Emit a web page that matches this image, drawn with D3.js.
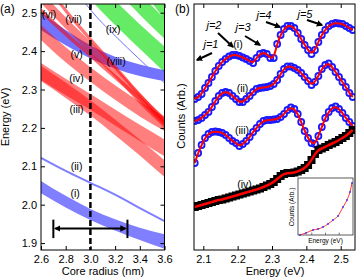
<!DOCTYPE html>
<html>
<head>
<meta charset="utf-8">
<script src="https://cdn.jsdelivr.net/npm/d3@7"></script>
<style>
body { margin: 0; background: #fff; }
svg { font-family: "Liberation Sans", Arial, sans-serif; }
</style>
</head>
<body>
<svg id="chart" width="357" height="280"></svg>
<script>
// ---- panel (a): transition energies vs core radius ----
var radii = [2.6, 2.8, 3.0, 3.2, 3.4, 3.6];

var band1Top = [2.062, 2.023, 1.989, 1.962, 1.940, 1.923];
var band1Bot = [2.030, 1.993, 1.960, 1.933, 1.908, 1.885];
var band2Line = [2.122, 2.088, 2.057, 2.026, 1.991, 1.957];
var band3aTop = [2.369, 2.328, 2.288, 2.248, 2.208, 2.170];
var band3aBot = [2.325, 2.285, 2.247, 2.206, 2.166, 2.126];
var band3bTop = [2.362, 2.318, 2.272, 2.222, 2.170, 2.116];
var band3bBot = [2.322, 2.278, 2.232, 2.181, 2.128, 2.072];
var band4Top = [2.468, 2.410, 2.358, 2.311, 2.268, 2.230];
var band4Bot = [2.429, 2.371, 2.320, 2.273, 2.230, 2.192];
var band5Top = [2.555, 2.488, 2.425, 2.360, 2.290, 2.228];
var band5Bot = [2.525, 2.458, 2.395, 2.332, 2.262, 2.200];
var band6Top = [2.512, 2.452, 2.397, 2.340, 2.283, 2.218];
var band6Bot = [2.498, 2.438, 2.383, 2.326, 2.269, 2.204];
var band7Top = [2.598, 2.512, 2.437, 2.365, 2.292, 2.224];
var band7Bot = [2.585, 2.499, 2.424, 2.352, 2.279, 2.211];
var band8Top = [2.502, 2.455, 2.415, 2.385, 2.365, 2.350];
var band8Bot = [2.455, 2.415, 2.381, 2.355, 2.335, 2.322];
var band9Line = [2.750, 2.600, 2.508, 2.440, 2.378, 2.317];
var greenATop = [2.850, 2.700, 2.600, 2.532, 2.470, 2.412];
var greenABot = [2.780, 2.630, 2.536, 2.468, 2.406, 2.345];
var greenBTop = [2.920, 2.780, 2.690, 2.620, 2.550, 2.485];
var greenBBot = [2.860, 2.720, 2.630, 2.562, 2.495, 2.432];
var greenCTop = [3.000, 2.870, 2.780, 2.700, 2.615, 2.530];
var greenCBot = [2.950, 2.820, 2.730, 2.650, 2.568, 2.482];
var greyTop = [3.050, 2.950, 2.850, 2.740, 2.650, 2.560];
var greyBot = [3.030, 2.930, 2.830, 2.720, 2.628, 2.536];

var radiusTicks = [2.6, 2.8, 3.0, 3.2, 3.4, 3.6];
var energyTicksA = [1.9, 2.0, 2.1, 2.2, 2.3, 2.4, 2.5];
var sizeRange = [2.7, 3.3];   // core radius spread
var sizeEnergy = 1.938;

// ---- panel (b): spectra ----
var energies = [2.075, 2.085, 2.095, 2.105, 2.115, 2.125, 2.135, 2.145, 2.155, 2.165,
    2.175, 2.185, 2.195, 2.205, 2.215, 2.225, 2.235, 2.245, 2.255, 2.265,
    2.275, 2.285, 2.295, 2.305, 2.315, 2.325, 2.335, 2.345, 2.355, 2.365,
    2.375, 2.385, 2.395, 2.405, 2.415, 2.425, 2.435, 2.445, 2.455, 2.465,
    2.475, 2.485, 2.495, 2.505, 2.515, 2.525, 2.535];
var spec1 = [151, 153, 156, 162, 167, 173, 179, 184, 188, 191, 193.5, 195, 195, 194, 192.5, 191, 189, 187, 192, 196,
    197, 196, 192, 192, 206, 215, 221, 224, 224, 222, 217, 211, 205, 200, 196, 200, 208, 215, 220, 224,
    226, 227, 226.5, 226, 224, 222, 220];
var spec2 = [129, 130, 132, 135, 138, 143, 149, 154, 157, 158, 157, 154, 151, 148, 148, 151, 154, 158, 161, 162,
    162.5, 163, 164, 166, 170, 176, 181, 183.5, 183.5, 182, 180, 177, 173, 169, 165, 168, 174, 181, 185, 186.5,
    183, 178, 173, 168, 163, 157, 153];
var spec3 = [87, 97, 105, 112, 116, 118, 118.5, 118, 117, 115, 112, 109, 107, 104, 106, 109, 113, 118, 122, 126,
    129, 130, 130, 130.5, 131, 133, 136, 140, 142.5, 141, 136, 128, 119, 112, 107, 106, 114, 123, 132, 138,
    142, 143.5, 141, 137, 132, 128, 124];
var spec4 = [43, 44, 45, 46, 47, 48, 49, 50, 50.5, 51.5, 52.5, 53.5, 54.5, 55.5, 56.5, 57.5, 58.5, 59.5, 60.5, 61.5,
    63, 64.5, 66, 68, 71, 74, 76, 77, 77, 77.5, 78.5, 80, 82, 85, 90, 96, 100, 101.5, 103, 105,
    106.5, 108, 110, 112, 114, 117, 120];
var energyTicksB = [2.1, 2.2, 2.3, 2.4, 2.5];

// inset (relative units)
var insetE = [0.036, 0.145, 0.273, 0.364, 0.455, 0.545, 0.636, 0.727, 0.818, 0.891, 0.945, 0.982];
var insetC = [0.0, 0.035, 0.088, 0.105, 0.140, 0.193, 0.263, 0.333, 0.491, 0.614, 0.754, 0.912];

var svg = d3.select("#chart");

var defs = svg.append("defs");
defs.append("clipPath").attr("id", "clipA").append("rect")
    .attr("x", 41).attr("y", 4).attr("width", 123.5).attr("height", 246);
defs.append("clipPath").attr("id", "clipB").append("rect")
    .attr("x", 194).attr("y", 4).attr("width", 161).attr("height", 246);
defs.append("marker").attr("id", "head")
    .attr("viewBox", "0 0 10 10").attr("refX", 8).attr("refY", 5)
    .attr("markerWidth", 3.2).attr("markerHeight", 3.2).attr("orient", "auto-start-reverse")
    .append("path").attr("d", "M0,0L10,5L0,10z").attr("fill", "#000");

// ================= panel (a) =================
var xA = d3.scaleLinear().domain([2.6, 3.6]).range([41, 164.5]);
var yA = d3.scaleLinear().domain([1.882, 2.5227]).range([250, 4]);

var gA = svg.append("g");
var plotA = gA.append("g").attr("clip-path", "url(#clipA)");

var bandArea = d3.area()
    .x(function(d) { return xA(d.r); })
    .y0(function(d) { return yA(d.lo); })
    .y1(function(d) { return yA(d.hi); })
    .curve(d3.curveMonotoneX);
var bandLine = d3.line()
    .x(function(d) { return xA(d.r); })
    .y(function(d) { return yA(d.e); })
    .curve(d3.curveMonotoneX);

var makeBand = function(top, bot) {
    return radii.map(function(r, i) { return {r: r, hi: top[i], lo: bot[i]}; });
}

var bands = [
    [greyTop, greyBot, "#999999", 0.35],
    [greenCTop, greenCBot, "#00dd00", 0.6],
    [greenBTop, greenBBot, "#00dd00", 0.6],
    [greenATop, greenABot, "#00dd00", 0.6],
    [band8Top, band8Bot, "#0000ff", 0.55],
    [band1Top, band1Bot, "#0000ff", 0.5],
    [band3bTop, band3bBot, "#ff0000", 0.5],
    [band3aTop, band3aBot, "#ff0000", 0.5],
    [band4Top, band4Bot, "#ff0000", 0.5],
    [band5Top, band5Bot, "#ff0000", 0.5],
    [band6Top, band6Bot, "#ff0000", 0.55],
    [band7Top, band7Bot, "#ff0000", 0.55]
];

bands.forEach(function(b) {
    plotA.append("path")
        .attr("d", bandArea(makeBand(b[0], b[1])))
        .attr("fill", b[2])
        .attr("fill-opacity", b[3]);
});

plotA.append("path")
    .attr("d", bandLine(radii.map(function(r, i) { return {r: r, e: band2Line[i]}; })))
    .attr("fill", "none").attr("stroke", "#7f7fff").attr("stroke-width", 2);
plotA.append("path")
    .attr("d", bandLine(radii.map(function(r, i) { return {r: r, e: band9Line[i]}; })))
    .attr("fill", "none").attr("stroke", "#7070ff").attr("stroke-width", 1);

// dashed line at mean radius
plotA.append("line")
    .attr("x1", xA(3.0)).attr("x2", xA(3.0))
    .attr("y1", 4).attr("y2", 250)
    .attr("stroke", "#000").attr("stroke-width", 2.5)
    .attr("stroke-dasharray", "6,3");

// size distribution bar
gA.append("line")
    .attr("x1", xA(sizeRange[0]) + 2).attr("x2", xA(sizeRange[1]) - 2)
    .attr("y1", yA(sizeEnergy)).attr("y2", yA(sizeEnergy))
    .attr("stroke", "#000").attr("stroke-width", 2)
    .attr("marker-start", "url(#head)").attr("marker-end", "url(#head)");
sizeRange.forEach(function(r) {
    gA.append("line")
        .attr("x1", xA(r)).attr("x2", xA(r))
        .attr("y1", yA(1.961)).attr("y2", yA(1.913))
        .attr("stroke", "#000").attr("stroke-width", 2);
});

var labelsA = [
    ["(i)", 2.876, 2.020], ["(ii)", 2.888, 2.090], ["(iii)", 2.888, 2.239],
    ["(iv)", 2.888, 2.320], ["(v)", 2.888, 2.382], ["(vi)", 2.665, 2.486],
    ["(vii)", 2.864, 2.473], ["(viii)", 3.208, 2.364], ["(ix)", 3.184, 2.447]
];
gA.selectAll("text.lab").data(labelsA).enter().append("text")
    .attr("class", "lab")
    .attr("x", function(d) { return xA(d[1]); })
    .attr("y", function(d) { return yA(d[2]); })
    .attr("text-anchor", "middle")
    .attr("font-size", 10.5)
    .text(function(d) { return d[0]; });

// axes (a)
var styleAxis = function(g) {
    g.select(".domain").remove();
    g.selectAll("text").attr("font-size", 11).attr("fill", "#000")
        .attr("font-family", "'Liberation Sans', Arial, sans-serif");
    g.selectAll("line").attr("stroke", "#000");
}
gA.append("g").attr("transform", "translate(0,250)")
    .call(d3.axisBottom(xA).tickValues(radiusTicks).tickFormat(d3.format(".1f"))
        .tickSizeInner(-4).tickSizeOuter(0).tickPadding(5))
    .call(styleAxis);
gA.append("g").attr("transform", "translate(0,4)")
    .call(d3.axisTop(xA).tickValues(radiusTicks).tickFormat("")
        .tickSizeInner(-4).tickSizeOuter(0))
    .call(styleAxis);
gA.append("g").attr("transform", "translate(41,0)")
    .call(d3.axisLeft(yA).tickValues(energyTicksA).tickFormat(d3.format(".1f"))
        .tickSizeInner(-4).tickSizeOuter(0).tickPadding(4))
    .call(styleAxis);
gA.append("g").attr("transform", "translate(164.5,0)")
    .call(d3.axisRight(yA).tickValues(energyTicksA).tickFormat("")
        .tickSizeInner(-4).tickSizeOuter(0))
    .call(styleAxis);
gA.append("rect").attr("x", 41).attr("y", 4).attr("width", 123.5).attr("height", 246)
    .attr("fill", "none").attr("stroke", "#000").attr("stroke-width", 1);

gA.append("text").attr("x", 103).attr("y", 275).attr("text-anchor", "middle")
    .attr("font-size", 11).text("Core radius (nm)");
gA.append("text").attr("transform", "translate(9,117) rotate(-90)")
    .attr("text-anchor", "middle").attr("font-size", 11).text("Energy (eV)");
svg.append("text").attr("x", 0).attr("y", 13).attr("font-size", 12).text("(a)");

// ================= panel (b) =================
var xB = d3.scaleLinear().domain([2.0729, 2.5416]).range([194, 355]);
var yB = d3.scaleLinear().domain([0, 246]).range([250, 4]);

var gB = svg.append("g");
var plotB = gB.append("g").attr("clip-path", "url(#clipB)");

var fitLine = d3.line()
    .x(function(d) { return xB(d[0]); })
    .y(function(d) { return yB(d[1]); })
    .curve(d3.curveBasis);

[spec1, spec2, spec3].forEach(function(spec) {
    var pts = energies.map(function(e, i) { return [e, spec[i]]; });
    plotB.append("g").selectAll("circle")
        .data(pts).enter().append("circle")
        .attr("cx", function(d) { return xB(d[0]); })
        .attr("cy", function(d) { return yB(d[1]); })
        .attr("r", 3)
        .attr("fill", "none")
        .attr("stroke", "#1a1aff")
        .attr("stroke-width", 1.8);
    plotB.append("path").attr("d", fitLine(pts))
        .attr("fill", "none").attr("stroke", "#ff0000").attr("stroke-width", 2);
});

var pts4 = energies.map(function(e, i) { return [e, spec4[i]]; });
plotB.append("g").selectAll("rect")
    .data(pts4).enter().append("rect")
    .attr("x", function(d) { return xB(d[0]) - 4; })
    .attr("y", function(d) { return yB(d[1]) - 4; })
    .attr("width", 8).attr("height", 8)
    .attr("fill", "#000");
plotB.append("path").attr("d", fitLine(pts4))
    .attr("fill", "none").attr("stroke", "#ff0000").attr("stroke-width", 2.5);

var labelsB = [["(i)", 2.201, 202], ["(ii)", 2.2141, 158], ["(iii)", 2.2127, 116], ["(iv)", 2.2199, 62]];
gB.selectAll("text.lab").data(labelsB).enter().append("text")
    .attr("class", "lab")
    .attr("x", function(d) { return xB(d[1]); })
    .attr("y", function(d) { return yB(d[2]); })
    .attr("text-anchor", "middle")
    .attr("font-size", 10.5)
    .text(function(d) { return d[0]; });

// j arrows: label position, arrow start, arrow end
var jNotes = [
    ["j=1", 2.1224, 202, 2.1253, 197, 2.0816, 190],
    ["j=2", 2.1311, 221, 2.1428, 217, 2.1864, 203],
    ["j=3", 2.2156, 219, 2.2214, 214, 2.2650, 205],
    ["j=4", 2.2767, 231, 2.2825, 228, 2.3233, 223],
    ["j=5", 2.3960, 232, 2.4019, 230, 2.4455, 225]
];
jNotes.forEach(function(n) {
    gB.append("text").attr("x", xB(n[1])).attr("y", yB(n[2]))
        .attr("text-anchor", "middle").attr("font-size", 11).attr("font-style", "italic")
        .text(n[0]);
    gB.append("line")
        .attr("x1", xB(n[3])).attr("y1", yB(n[4]))
        .attr("x2", xB(n[5])).attr("y2", yB(n[6]))
        .attr("stroke", "#000").attr("stroke-width", 2)
        .attr("marker-end", "url(#head)");
});

// inset
var xIn = d3.scaleLinear().domain([0, 1]).range([298, 353]);
var yIn = d3.scaleLinear().domain([0, 1]).range([235, 178]);
gB.append("rect").attr("x", 298).attr("y", 178).attr("width", 55).attr("height", 57)
    .attr("fill", "#fff").attr("stroke", "#333").attr("stroke-width", 0.8);
[0.25, 0.5, 0.75].forEach(function(t) {
    gB.append("line").attr("x1", xIn(t)).attr("x2", xIn(t))
        .attr("y1", 235).attr("y2", 232.5).attr("stroke", "#333").attr("stroke-width", 0.6);
});
var insetPts = insetE.map(function(e, i) { return [e, insetC[i]]; });
gB.append("path")
    .attr("d", d3.line().x(function(d) { return xIn(d[0]); }).y(function(d) { return yIn(d[1]); })
        .curve(d3.curveMonotoneX)(insetPts))
    .attr("fill", "none").attr("stroke", "#ff3030").attr("stroke-width", 1);
gB.append("g").selectAll("circle").data(insetPts).enter().append("circle")
    .attr("cx", function(d) { return xIn(d[0]); })
    .attr("cy", function(d) { return yIn(d[1]); })
    .attr("r", 0.9).attr("fill", "#3030ff");
gB.append("text").attr("x", 325.5).attr("y", 242.5).attr("text-anchor", "middle")
    .attr("font-size", 6.5).text("Energy (eV)");
gB.append("text").attr("transform", "translate(294,207) rotate(-90)")
    .attr("text-anchor", "middle").attr("font-size", 6.5).text("Counts (Arb.)");

// axes (b)
gB.append("g").attr("transform", "translate(0,250)")
    .call(d3.axisBottom(xB).tickValues(energyTicksB).tickFormat(d3.format(".1f"))
        .tickSizeInner(-4).tickSizeOuter(0).tickPadding(5))
    .call(styleAxis);
gB.append("g").attr("transform", "translate(0,4)")
    .call(d3.axisTop(xB).tickValues(energyTicksB).tickFormat("")
        .tickSizeInner(-4).tickSizeOuter(0))
    .call(styleAxis);
gB.append("rect").attr("x", 194).attr("y", 4).attr("width", 161).attr("height", 246)
    .attr("fill", "none").attr("stroke", "#000").attr("stroke-width", 1);

gB.append("text").attr("x", 275).attr("y", 275).attr("text-anchor", "middle")
    .attr("font-size", 11).text("Energy (eV)");
gB.append("text").attr("transform", "translate(185,116) rotate(-90)")
    .attr("text-anchor", "middle").attr("font-size", 11).text("Counts (Arb.)");
svg.append("text").attr("x", 175).attr("y", 13).attr("font-size", 12).text("(b)");
</script>
</body>
</html>
